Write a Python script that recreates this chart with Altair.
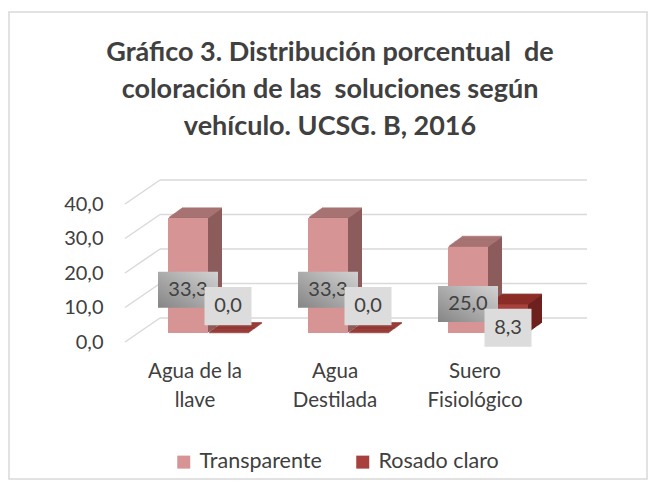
import altair as alt
import pandas as pd

# ---------------- data ----------------
categorias = ["Agua de la llave", "Agua Destilada", "Suero Fisiológico"]
etiquetas_x = [["Agua de la", "llave"], ["Agua", "Destilada"], ["Suero", "Fisiológico"]]
series = ["Transparente", "Rosado claro"]
transparente = [33.3, 33.3, 25.0]
rosado_claro = [0.0, 0.0, 8.3]
valores_eje_y = [0, 10, 20, 30, 40]
titulo = [
    "Gráfico 3. Distribución porcentual  de",
    "coloración de las  soluciones según",
    "vehículo. UCSG. B, 2016",
]

rows = []
for c, t, r in zip(categorias, transparente, rosado_claro):
    rows.append({"cat": c, "serie": series[0], "v": t})
    rows.append({"cat": c, "serie": series[1], "v": r})
df = pd.DataFrame(rows)
grid_df = pd.DataFrame({"v": valores_eje_y})
one_df = pd.DataFrame({"a": [0]})

# ---------------- style ----------------
FONT = "Lato"
TXT = "#404040"
GRID = "#D9D9D9"
front_cols = ["#D69494", "#A8403D"]
side_cols = {"Transparente": "#8C5C5C", "Rosado claro": "#6E201E"}
top_cols = {"Transparente": "#A97575", "Rosado claro": "#8E2D2A"}
ser_dx = {"Transparente": -7, "Rosado claro": 33}
W, H = 420, 138
BAR_W = 40
SHIFT_Y = -9
DEPTH, RISE = 14, 10
BACK_DX, BACK_DY = 35, -24

lab_expr = "datum.label"
for c, lines in zip(categorias, etiquetas_x):
    arr = "[" + ",".join("'" + s + "'" for s in lines) + "]"
    lab_expr = f"datum.label == '{c}' ? {arr} : ({lab_expr})"

X_AXIS = alt.Axis(labelExpr=lab_expr, labelAngle=0, labelFont=FONT, labelFontSize=20.5,
                  labelColor=TXT, labelLineHeight=29, labelPadding=19, ticks=False,
                  domain=False, grid=False, labelBaseline="top", title=None)
Y_AXIS = alt.Axis(values=valores_eje_y, labelExpr="replace(format(datum.value, '.1f'), '.', ',')",
                  labelFont=FONT, labelFontSize=20, labelColor=TXT, labelPadding=22,
                  ticks=False, domain=False, grid=False, title=None)
x_scale = alt.Scale(domain=categorias, paddingInner=0.4286, paddingOuter=0.2143)
y_scale = alt.Scale(domain=[0, 40], nice=False, zero=True)


def X():
    return alt.X("cat:N", sort=categorias, scale=x_scale, axis=X_AXIS)


def Y(field):
    return alt.Y(field, type="quantitative", scale=y_scale, axis=Y_AXIS)


base = alt.Chart(df).transform_calculate(
    lab="replace(format(datum.v, '.1f'), '.', ',')",
    ylab="datum.serie == 'Transparente' ? datum.v / 2 - 1.5 : (datum.v > 0 ? datum.v / 2 : 10.4)",
)


def per_series(s):
    return base.transform_filter(alt.datum.serie == s)


layers = []

# outer frame
layers.append(
    alt.Chart(one_df).mark_rect(filled=False, stroke=GRID, strokeWidth=1.5).encode(
        x=alt.value(-116), x2=alt.value(522), y=alt.value(-192), y2=alt.value(275)
    )
)

# back-wall gridlines and diagonals
layers.append(
    alt.Chart(grid_df).mark_rule(color=GRID, strokeWidth=1.5, yOffset=BACK_DY, y2Offset=BACK_DY).encode(
        x=alt.value(BACK_DX), x2=alt.value(W + 42), y=Y("v"), y2="v:Q",
    )
)
layers.append(
    alt.Chart(grid_df).mark_rule(color=GRID, strokeWidth=1.5, y2Offset=BACK_DY).encode(
        x=alt.value(0), x2=alt.value(BACK_DX), y=Y("v"), y2="v:Q",
    )
)

# 3D extrusion: side slices (deep to shallow)
for k in range(DEPTH, 0, -1):
    dy = SHIFT_Y - k * RISE / DEPTH
    for s in series:
        layers.append(
            per_series(s).mark_bar(width=BAR_W, color=side_cols[s], xOffset=ser_dx[s] + k,
                                   yOffset=dy, y2Offset=dy).encode(
                x=X(), y=Y("v"), y2=alt.datum(0),
            )
        )
# top faces
for k in range(DEPTH, 0, -1):
    dy = SHIFT_Y - k * RISE / DEPTH
    for s in series:
        layers.append(
            per_series(s).mark_tick(orient="horizontal", size=BAR_W, thickness=1.8, color=top_cols[s],
                                    xOffset=ser_dx[s] + k, yOffset=dy).encode(
                x=X(), y=Y("v"),
            )
        )

# front faces (legend)
color_enc = alt.Color("serie:N", sort=series,
                      scale=alt.Scale(domain=series, range=front_cols),
                      legend=alt.Legend(orient="none", legendX=48, legendY=247, direction="horizontal",
                                        title=None, symbolType="square", symbolSize=169,
                                        symbolStrokeWidth=0, symbolOpacity=1, labelFont=FONT,
                                        labelFontSize=21.5, labelColor=TXT, columnPadding=30,
                                        labelOffset=5, padding=0))
for s in series:
    layers.append(
        per_series(s).mark_bar(width=BAR_W, xOffset=ser_dx[s], yOffset=SHIFT_Y, y2Offset=SHIFT_Y,
                               opacity=1).encode(
            x=X(), y=Y("v"), y2=alt.datum(0), color=color_enc,
        )
    )

# data label boxes
box_t = "M-1,-0.6L1,-0.6L1,0.6L-1,0.6Z"
box_r = "M-1,-0.81L1,-0.81L1,0.81L-1,0.81Z"
grad = alt.LinearGradient(gradient="linear", x1=0, y1=1, x2=1, y2=0,
                          stops=[alt.GradientStop(color="#858585", offset=0),
                                 alt.GradientStop(color="#D2D2D2", offset=1)])
for s, shape, size, fill in [(series[0], box_t, 3600, grad), (series[1], box_r, 2209, "#DCDCDC")]:
    layers.append(
        per_series(s).mark_point(shape=shape, size=size, filled=True, fill=fill, opacity=1,
                                 strokeWidth=0, xOffset=ser_dx[s]).encode(
            x=X(), y=Y("ylab"),
        )
    )
    layers.append(
        per_series(s).mark_text(font=FONT, fontSize=20, color=TXT, xOffset=ser_dx[s],
                                baseline="middle").encode(
            x=X(), y=Y("ylab"), text="lab:N",
        )
    )

chart = alt.layer(*layers).properties(
    width=W, height=H,
    background="white",
    padding={"left": 117, "top": 196, "right": 104, "bottom": 140},
    autosize=alt.AutoSizeParams(type="none"),
    title=alt.TitleParams(text=[t.replace("  ", " \u00a0") for t in titulo], font=FONT, fontSize=27,
                          fontWeight="bold", color=TXT, lineHeight=37, anchor="middle",
                          frame="group", dx=-5, offset=0, dy=130),
).configure_view(strokeWidth=0, stroke="transparent")

chart.save("out.html", embed_options={"renderer": "svg", "actions": False})
